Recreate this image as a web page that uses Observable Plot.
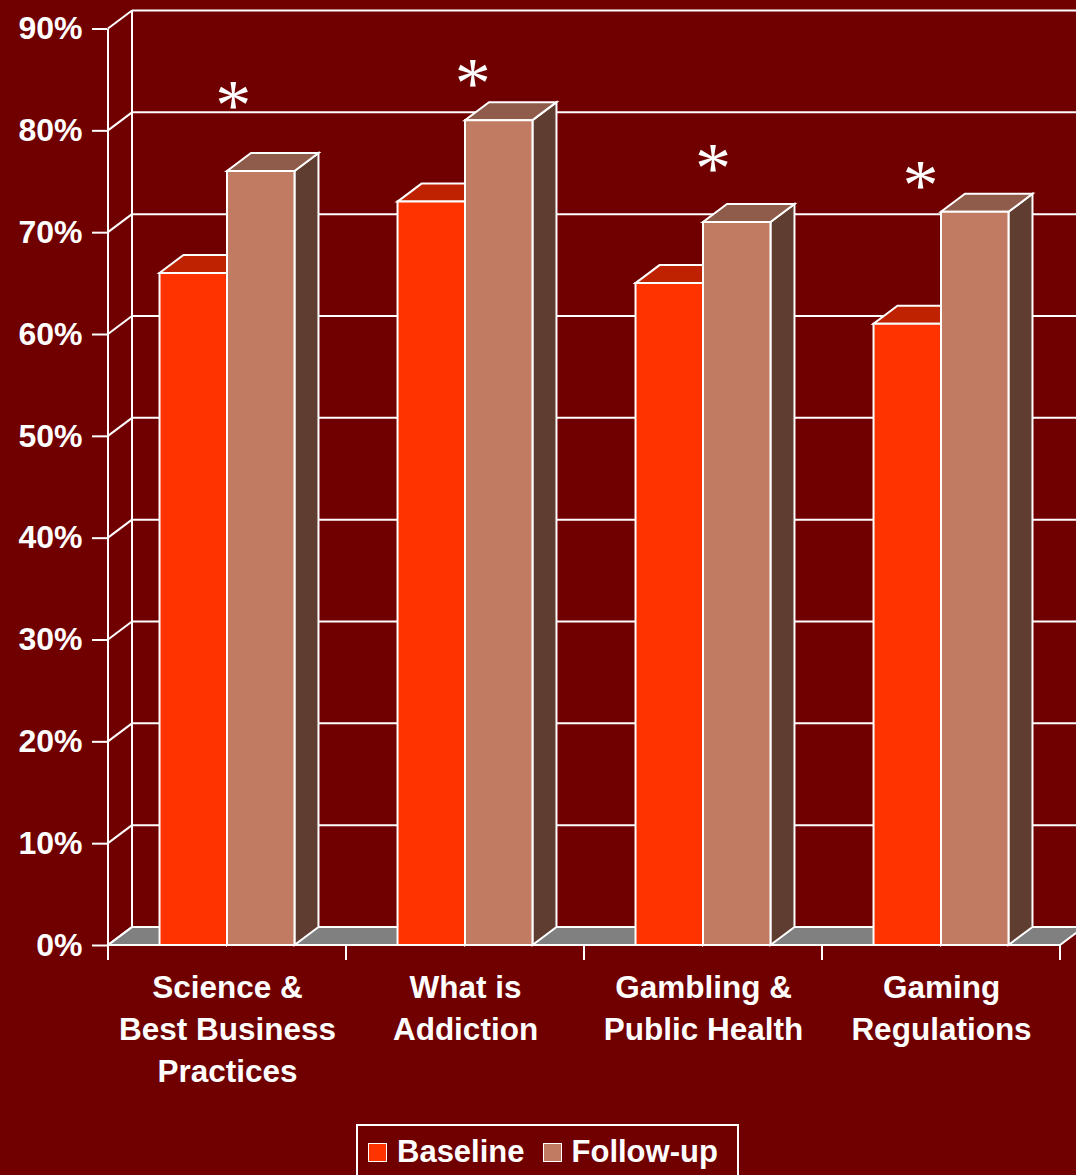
<!DOCTYPE html>
<html><head><meta charset="utf-8">
<script src="https://cdn.jsdelivr.net/npm/d3@7"></script>
<script src="https://cdn.jsdelivr.net/npm/@observablehq/plot@0.6"></script>
<style>
html,body{margin:0;padding:0;background:#700000;width:1076px;height:1175px;overflow:hidden;font-family:"Liberation Sans",Arial,sans-serif;}
#chart{position:absolute;left:0;top:0;}
#legend{position:absolute;left:356px;top:1124px;width:379px;height:52px;border:2px solid #fff;display:flex;align-items:center;color:#fff;font-weight:bold;font-size:31px;}
#legend .item{display:flex;align-items:center;margin-left:10px;}
#legend .item + .item{margin-left:18px;}
#legend .sw{width:17px;height:17px;border:1.5px solid #fff;margin-right:10px;}
</style></head><body>
<div id="chart"></div>
<div id="legend"></div>
<script>
// ---- data ----
const categories = ["Science &\nBest Business\nPractices", "What is\nAddiction", "Gambling &\nPublic Health", "Gaming\nRegulations"];
const series = ["Baseline", "Follow-up"];
const baseline = [66, 73, 65, 61];
const followUp = [76, 81, 71, 72];
const yTicks = [0, 10, 20, 30, 40, 50, 60, 70, 80, 90];
const asteriskLevel = [83.7, 85.9, 77.5, 75.9];
const asteriskNudge = [5.7, 7.3, 9.4, -21];

const colors = {
  Baseline: {front: "#ff3300", top: "#be2200", side: "#8a1a00"},
  "Follow-up": {front: "#c07b62", top: "#8f5b4a", side: "#5f3d31"}
};
const bg = "#700000";
const DX = 24, DY = 18; // depth of the 3D projection (pixels)

const rows = categories.map((c, i) => ({category: c, Baseline: baseline[i], "Follow-up": followUp[i]}));

function poly(g, pts, fill) {
  g.append("path")
    .attr("d", "M" + pts.map(p => p.join(",")).join("L") + "Z")
    .attr("fill", fill).attr("stroke", "#fff").attr("stroke-width", 2).attr("stroke-linejoin", "miter");
}

// 3D frame: back wall, left wall, floor, front axis line, x ticks
function frame3d(index, scales) {
  const {x, y} = scales;
  const g = d3.create("svg:g");
  const x0 = x(categories[0]);
  const x1 = x(categories[categories.length - 1]) + x.bandwidth();
  poly(g, [[x0, y(0)], [x1, y(0)], [x1 + DX, y(0) - DY], [x0 + DX, y(0) - DY]], "#808080");
  for (const t of yTicks) {
    g.append("line").attr("x1", x0 + DX).attr("x2", x1 + DX + 40)
      .attr("y1", y(t) - DY).attr("y2", y(t) - DY).attr("stroke", "#fff").attr("stroke-width", 2);
    g.append("line").attr("x1", x0).attr("x2", x0 + DX)
      .attr("y1", y(t)).attr("y2", y(t) - DY).attr("stroke", "#fff").attr("stroke-width", 2);
  }
  g.append("line").attr("x1", x0 + DX).attr("x2", x0 + DX)
    .attr("y1", y(0) - DY).attr("y2", y(yTicks[yTicks.length - 1]) - DY).attr("stroke", "#fff").attr("stroke-width", 2);
  g.append("line").attr("x1", x0).attr("x2", x0)
    .attr("y1", y(yTicks[yTicks.length - 1])).attr("y2", y(0) + 15).attr("stroke", "#fff").attr("stroke-width", 2);
  const edges = categories.map(c => x(c)).concat([x1]);
  for (const e of edges) {
    g.append("line").attr("x1", e).attr("x2", e).attr("y1", y(0)).attr("y2", y(0) + 15)
      .attr("stroke", "#fff").attr("stroke-width", 2);
  }
  return g.node();
}

// 3D bars
function bars3d(index, scales) {
  const {x, y} = scales;
  const g = d3.create("svg:g");
  for (const r of rows) {
    const bx = x(r.category), bw = x.bandwidth();
    const barW = bw * 0.2835;
    const left = bx + (bw - 2 * barW) / 2;
    series.forEach((s, k) => {
      const xl = left + k * barW, xr = xl + barW;
      const yt = y(r[s]), yb = y(0);
      const c = colors[s];
      poly(g, [[xr, yt], [xr + DX, yt - DY], [xr + DX, yb - DY], [xr, yb]], c.side);
      poly(g, [[xl, yt], [xr, yt], [xr + DX, yt - DY], [xl + DX, yt - DY]], c.top);
      poly(g, [[xl, yt], [xr, yt], [xr, yb], [xl, yb]], c.front);
    });
  }
  return g.node();
}

const plot = Plot.plot({
  width: 1076,
  height: 1110,
  marginLeft: 107,
  marginRight: 16,
  marginTop: 28.5,
  marginBottom: 165,
  style: {background: bg, color: "#fff", fontFamily: "'Liberation Sans', Arial, sans-serif", fontWeight: "bold", overflow: "hidden"},
  x: {type: "band", domain: categories, padding: 0, axis: null},
  y: {domain: [0, 90], axis: null},
  marks: [
    frame3d,
    bars3d,
    Plot.axisY({ticks: yTicks, tickSize: 15, tickPadding: 10, tickFormat: d => d + "%", fontSize: 32, fontWeight: "bold", strokeWidth: 2, stroke: "#fff", fill: "#fff"}),
    Plot.text(categories, {x: d => d, y: () => 0, text: d => d, lineAnchor: "top", dy: 23, lineHeight: 1.33, fontSize: 31.5, fontWeight: "bold", fill: "#fff"}),
    ...categories.map((c, i) => Plot.text([c], {x: d => d, y: () => asteriskLevel[i], text: () => "*", dx: asteriskNudge[i], dy: 13, fontSize: 72, fontWeight: "normal", fontFamily: "'Liberation Serif', 'Times New Roman', serif", fill: "#fff"}))
  ]
});
document.getElementById("chart").appendChild(plot);

const legend = document.getElementById("legend");
series.forEach(s => {
  const it = document.createElement("div"); it.className = "item";
  const sw = document.createElement("div"); sw.className = "sw"; sw.style.background = colors[s].front;
  const tx = document.createElement("span"); tx.textContent = s;
  it.appendChild(sw); it.appendChild(tx); legend.appendChild(it);
});
</script>
</body></html>
